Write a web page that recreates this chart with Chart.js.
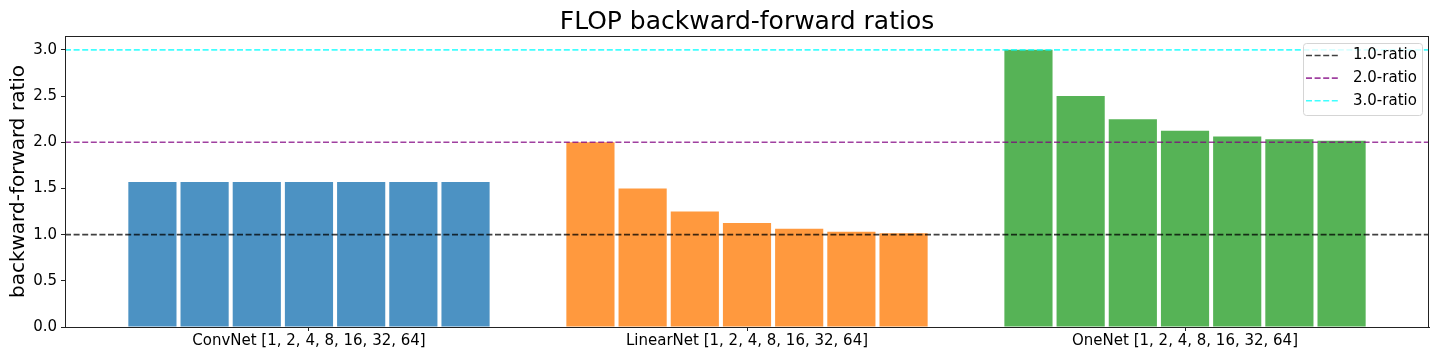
<!DOCTYPE html>
<html lang="en">
<head>
  <meta charset="UTF-8">
  <title>FLOP backward-forward ratios</title>
  <style>
    html, body { margin: 0; padding: 0; background: #fff; }
    #wrap { width: 1440px; height: 360px; }
  </style>
</head>
<body>
  <div id="wrap"><canvas id="chart" width="1440" height="360"></canvas></div>

  <script src="https://cdn.jsdelivr.net/npm/chart.js"></script>
  <script>
    // Group labels and bar values (one value per batch size 1..64)
    var groups = ['ConvNet [1, 2, 4, 8, 16, 32, 64]', 'LinearNet [1, 2, 4, 8, 16, 32, 64]', 'OneNet [1, 2, 4, 8, 16, 32, 64]'];
    var groupPos = [0, 1, 2];
    var convNet = [1.57, 1.57, 1.57, 1.57, 1.57, 1.57, 1.57];
    var linearNet = [2.0, 1.5, 1.25, 1.125, 1.0625, 1.03125, 1.015625];
    var oneNet = [3.0, 2.5, 2.25, 2.125, 2.0625, 2.03125, 2.015625];

    // Reference lines
    var ratioLabels = ['1.0-ratio', '2.0-ratio', '3.0-ratio'];
    var ratioValues = [1.0, 2.0, 3.0];
    var ratioColors = ['rgba(0,0,0,0.75)', 'rgba(128,0,128,0.75)', 'rgba(0,255,255,0.75)'];

    var yTicks = [0, 0.5, 1.0, 1.5, 2.0, 2.5, 3.0];
    var xMin = -0.557, xMax = 2.557;
    var yMax = 3.15;
    var titleText = 'FLOP backward-forward ratios';

    var groupColors = ['rgba(31,119,180,0.8)', 'rgba(255,127,14,0.8)', 'rgba(44,160,44,0.8)'];
    var font = 'DejaVu Sans';

    var datasets = [];
    // one dataset per batch size position, spread across the three groups
    for (var i = 0; i < convNet.length; i++) {
      datasets.push({
        type: 'bar',
        label: 'bs' + i,
        data: [
          { x: groupPos[0], y: convNet[i] },
          { x: groupPos[1], y: linearNet[i] },
          { x: groupPos[2], y: oneNet[i] }
        ],
        backgroundColor: groupColors,
        borderWidth: 0,
        categoryPercentage: 0.834,
        barPercentage: 0.923,
        order: 2
      });
    }
    ratioValues.forEach(function(v, k) {
      datasets.push({
        type: 'line',
        label: ratioLabels[k],
        data: [{ x: xMin, y: v }, { x: xMax, y: v }],
        borderColor: ratioColors[k],
        borderWidth: 1.6,
        borderDash: [6, 2.6],
        pointRadius: 0,
        fill: false,
        order: 1
      });
    });

    // frame, title centred over the axes, matplotlib-like legend inside the plot
    var framePlugin = {
      id: 'frameLegend',
      afterDraw: function(chart) {
        var ctx = chart.ctx, a = chart.chartArea;
        ctx.save();
        ctx.strokeStyle = '#222';
        ctx.lineWidth = 1;
        ctx.strokeRect(Math.round(a.left) + 0.5, Math.round(a.top) + 0.5, Math.round(a.right - a.left) - 1, Math.round(a.bottom - a.top));

        ctx.fillStyle = '#000';
        ctx.font = '25px "' + font + '"';
        ctx.textAlign = 'center';
        ctx.textBaseline = 'alphabetic';
        ctx.fillText(titleText, (a.left + a.right) / 2, a.top - 7);

        // legend box
        var bx = a.right - 126, by = a.top + 7, bw = 119, bh = 72;
        ctx.beginPath();
        if (ctx.roundRect) ctx.roundRect(bx + 0.5, by + 0.5, bw, bh, 3); else ctx.rect(bx + 0.5, by + 0.5, bw, bh);
        ctx.fillStyle = 'rgba(255,255,255,0.8)';
        ctx.fill();
        ctx.strokeStyle = '#d5d5d5';
        ctx.stroke();

        ctx.font = '15px "' + font + '"';
        ctx.textBaseline = 'middle';
        ctx.textAlign = 'left';
        for (var k = 0; k < ratioLabels.length; k++) {
          var ly = by + 12.5 + k * 22.6;
          ctx.beginPath();
          ctx.setLineDash([6, 2.6]);
          ctx.lineWidth = 1.6;
          ctx.strokeStyle = ratioColors[k];
          ctx.moveTo(bx + 3, ly);
          ctx.lineTo(bx + 36, ly);
          ctx.stroke();
          ctx.setLineDash([]);
          ctx.fillStyle = '#000';
          ctx.fillText(ratioLabels[k], bx + 50, ly);
        }
        ctx.restore();
      }
    };

    new Chart(document.getElementById('chart'), {
      type: 'bar',
      data: { datasets: datasets },
      options: {
        responsive: false,
        animation: false,
        layout: { padding: { left: 0, right: 11, top: 36, bottom: 0 } },
        plugins: {
          legend: { display: false },
          tooltip: { enabled: false },
          title: { display: false }
        },
        scales: {
          x: {
            type: 'linear',
            min: xMin,
            max: xMax,
            offset: false,
            afterBuildTicks: function(axis) {
              axis.ticks = groupPos.map(function(v) { return { value: v }; });
            },
            afterFit: function(axis) { axis.height = 33; },
            ticks: {
              color: '#000',
              font: { family: font, size: 15 },
              padding: 1,
              maxRotation: 0,
              autoSkip: false,
              callback: function(v) { return groups[groupPos.indexOf(v)]; }
            },
            grid: { display: true, offset: false, drawOnChartArea: false, drawTicks: true, tickLength: 4, color: '#222' },
            border: { display: true, color: '#222' }
          },
          y: {
            min: 0,
            max: yMax,
            afterBuildTicks: function(axis) {
              axis.ticks = yTicks.map(function(v) { return { value: v }; });
            },
            afterFit: function(axis) { axis.width = 65; },
            ticks: {
              color: '#000',
              font: { family: font, size: 15 },
              padding: 4,
              callback: function(v) { return v.toFixed(1); }
            },
            grid: { display: true, drawOnChartArea: false, drawTicks: true, tickLength: 4, color: '#222' },
            border: { display: true, color: '#222' },
            title: {
              display: true,
              text: 'backward-forward ratio',
              color: '#000',
              font: { family: font, size: 20 },
              padding: { top: 7, bottom: 0 }
            }
          }
        }
      },
      plugins: [framePlugin]
    });
  </script>
</body>
</html>
